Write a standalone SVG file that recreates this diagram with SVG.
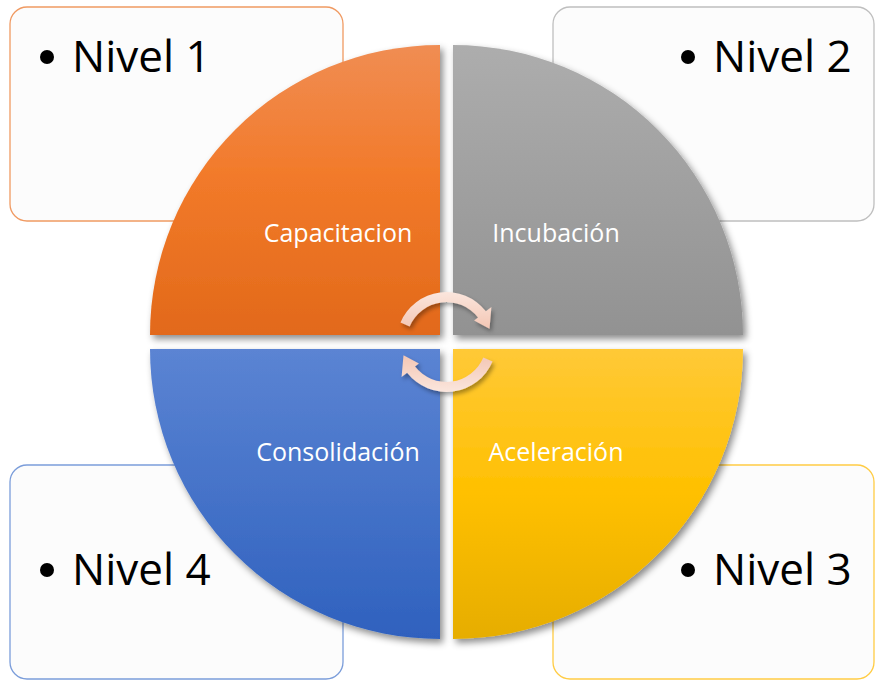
<svg xmlns="http://www.w3.org/2000/svg" width="876" height="681" viewBox="0 0 876 681">
<defs>
<linearGradient id="gO" x1="0" y1="0" x2="0" y2="1"><stop offset="0" stop-color="#F08D53"/><stop offset="0.45" stop-color="#F27A2A"/><stop offset="1" stop-color="#E2691A"/></linearGradient>
<linearGradient id="gG" x1="0" y1="0" x2="0" y2="1"><stop offset="0" stop-color="#ADADAD"/><stop offset="1" stop-color="#929292"/></linearGradient>
<linearGradient id="gB" x1="0" y1="0" x2="0" y2="1"><stop offset="0" stop-color="#5B84D3"/><stop offset="1" stop-color="#2F61BE"/></linearGradient>
<linearGradient id="gY" x1="0" y1="0" x2="0" y2="1"><stop offset="0" stop-color="#FFC937"/><stop offset="0.5" stop-color="#FFC000"/><stop offset="1" stop-color="#E6AD00"/></linearGradient>
<linearGradient id="gA" x1="0" y1="0" x2="0" y2="1"><stop offset="0" stop-color="#FBE6DD"/><stop offset="1" stop-color="#F3C6B4"/></linearGradient>
<filter id="sh" x="-10%" y="-10%" width="125%" height="125%"><feDropShadow dx="3" dy="4" stdDeviation="3.5" flood-color="#000" flood-opacity="0.45"/></filter>
<filter id="sh2" x="-30%" y="-30%" width="160%" height="160%"><feDropShadow dx="2" dy="3" stdDeviation="2" flood-color="#000" flood-opacity="0.35"/></filter>
<style>
.box{fill:#FCFCFC;stroke-width:1.3}
.lvl{font-family:"Open Sans","Liberation Sans",sans-serif;font-size:44px;fill:#000}
.lbl{font-family:"Open Sans","Liberation Sans",sans-serif;font-size:25px;fill:#FFF;text-anchor:middle}
</style>
</defs>
<rect width="876" height="681" fill="#FFFFFF"/>
<g id="box1"><rect class="box" x="10" y="7" width="333" height="214" rx="17" stroke="#F09A62"/><circle cx="47" cy="57" r="7"/><text class="lvl" x="72" y="72">Nivel 1</text></g>
<g id="box2"><rect class="box" x="553" y="7" width="321" height="214" rx="17" stroke="#BFBFBF"/><circle cx="688" cy="57" r="7"/><text class="lvl" x="713" y="72">Nivel 2</text></g>
<g id="box3"><rect class="box" x="553" y="465" width="321" height="214" rx="17" stroke="#FFCC44"/><circle cx="688" cy="570" r="7"/><text class="lvl" x="713" y="585">Nivel 3</text></g>
<g id="box4"><rect class="box" x="10" y="465" width="333" height="214" rx="17" stroke="#7B9DDA"/><circle cx="47" cy="570" r="7"/><text class="lvl" x="72" y="585">Nivel 4</text></g>
<g id="capacitacion"><path d="M440 335 L150 335 A290 290 0 0 1 440 45 Z" fill="url(#gO)" filter="url(#sh)"/><text class="lbl" x="338" y="242">Capacitacion</text></g>
<g id="incubacion"><path d="M453 335 L453 45 A290 290 0 0 1 743 335 Z" fill="url(#gG)" filter="url(#sh)"/><text class="lbl" x="556" y="242">Incubación</text></g>
<g id="consolidacion"><path d="M440 349 L440 639 A290 290 0 0 1 150 349 Z" fill="url(#gB)" filter="url(#sh)"/><text class="lbl" x="338" y="461">Consolidación</text></g>
<g id="aceleracion"><path d="M453 349 L743 349 A290 290 0 0 1 453 639 Z" fill="url(#gY)" filter="url(#sh)"/><text class="lbl" x="556" y="461">Aceleración</text></g>
<g id="connectors" fill="url(#gA)" filter="url(#sh2)">
<path id="arr" d="M400.5 322.5 A50 50 0 0 1 485.9 311.2 L491.4 306.9 L489.5 328.8 L474.1 320.5 L478.0 317.4 A40 40 0 0 0 409.7 326.4 Z"/>
<use href="#arr" transform="rotate(180 446.5 342)"/>
</g>
</svg>
